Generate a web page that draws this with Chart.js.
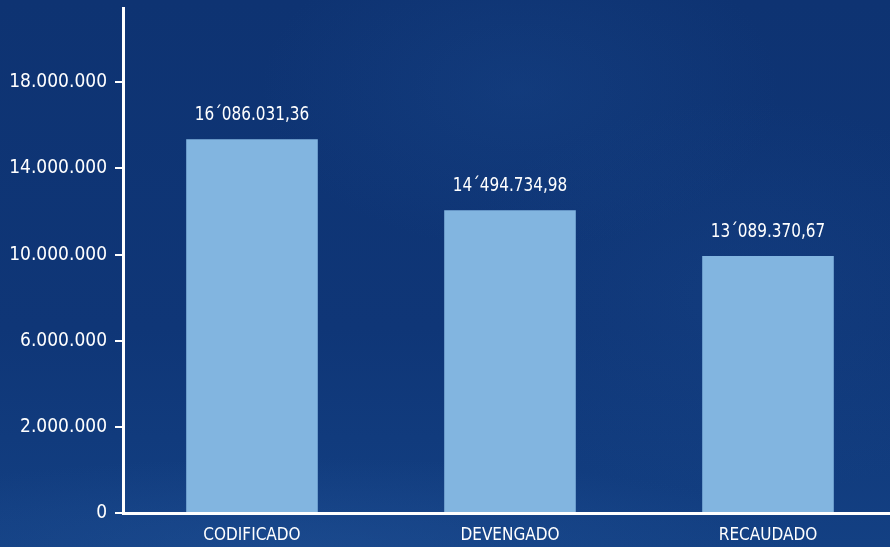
<!DOCTYPE html>
<html>
<head>
<meta charset="utf-8">
<script src="https://cdn.jsdelivr.net/npm/chart.js@4"></script>
<style>
  html, body { margin: 0; padding: 0; }
  body {
    width: 890px; height: 547px; overflow: hidden;
    background:
      radial-gradient(ellipse 260px 160px at 520px 90px, rgba(30,80,150,0.25), rgba(30,80,150,0) 100%),
      radial-gradient(ellipse 300px 200px at 740px 300px, rgba(30,80,150,0.22), rgba(30,80,150,0) 100%),
      radial-gradient(ellipse 520px 90px at 300px 547px, rgba(40,90,160,0.35), rgba(40,90,160,0) 100%),
      linear-gradient(180deg, #0e3372 0%, #0f3677 60%, #134083 100%);
  }
  #wrap { position: relative; width: 897px; height: 547px; }
</style>
</head>
<body>
<div id="wrap"><canvas id="chart"></canvas></div>
<script>
const categories = ['CODIFICADO', 'DEVENGADO', 'RECAUDADO'];
// bar heights as drawn against the axis (the axis labels in the original are uneven)
const barValues = [17350000, 14060000, 11930000];
const valueLabels = ['16´086.031,36', '14´494.734,98', '13´089.370,67'];
const tickValues = [0, 4000000, 8000000, 12000000, 16000000, 20000000];
const tickLabels = ['0', '2.000.000', '6.000.000', '10.000.000', '14.000.000', '18.000.000'];

const fontFamily = "'DejaVu Sans Condensed', 'Liberation Sans Narrow', sans-serif";

// writes the amount above each bar (squeezed a bit, the original font is narrow)
const valueLabelPlugin = {
  id: 'valueLabels',
  afterDatasetsDraw(chart) {
    const ctx = chart.ctx;
    const meta = chart.getDatasetMeta(0);
    const sx = 0.85;
    ctx.save();
    ctx.fillStyle = '#ffffff';
    ctx.font = '20px ' + fontFamily;
    ctx.textAlign = 'center';
    ctx.textBaseline = 'alphabetic';
    meta.data.forEach((bar, i) => {
      ctx.save();
      ctx.translate(bar.x, bar.y - 19);
      ctx.scale(sx, 1);
      ctx.fillText(valueLabels[i], 0, 0);
      ctx.restore();
    });
    ctx.restore();
  }
};

const ctx = document.getElementById('chart').getContext('2d');
new Chart(ctx, {
  type: 'bar',
  data: {
    labels: categories,
    datasets: [{
      data: barValues,
      backgroundColor: '#82b5e0',
      borderWidth: 0,
      categoryPercentage: 1,
      barPercentage: 0.51
    }]
  },
  options: {
    responsive: true,
    maintainAspectRatio: false,
    animation: false,
    layout: { padding: { top: 8, right: 0, left: 0, bottom: 0 } },
    plugins: { legend: { display: false }, tooltip: { enabled: false } },
    scales: {
      x: {
        grid: { display: false },
        border: { display: true, color: '#ffffff', width: 3 },
        ticks: { color: '#ffffff', font: { family: fontFamily, size: 17 }, padding: 4 },
        afterFit(scale) { scale.height = 34; }
      },
      y: {
        min: 0,
        max: 23450000,
        afterBuildTicks(scale) {
          scale.ticks = tickValues.map(v => ({ value: v }));
        },
        grid: { display: true, drawOnChartArea: false, drawTicks: true, tickLength: 8, color: '#ffffff', lineWidth: 2 },
        border: { display: true, color: '#ffffff', width: 3 },
        ticks: {
          color: '#ffffff',
          font: { family: fontFamily, size: 19 },
          padding: 8,
          callback: (value, index) => tickLabels[index]
        },
        afterFit(scale) {
          scale.width = 123;
          scale.paddingTop = 0;
        }
      }
    }
  },
  plugins: [valueLabelPlugin]
});
</script>
</body>
</html>
